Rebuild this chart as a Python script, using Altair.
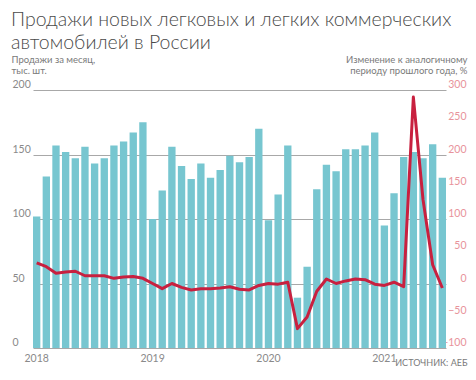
import altair as alt
import pandas as pd

title_lines = ["Продажи новых легковых и легких коммерческих", "автомобилей в России"]
left_title = ["Продажи за месяц,", "тыс. шт."]
right_title = ["Изменение к аналогичному", "периоду прошлого года, %"]
source = "ИСТОЧНИК: АЕБ"

years = ["2018", "2019", "2020", "2021"]
months = ["01", "02", "03", "04", "05", "06", "07", "08", "09", "10", "11", "12"]

sales = [
    102, 133, 157, 152, 147, 156, 143, 147, 157, 160, 167, 175,
    100, 122, 156, 141, 131, 143, 132, 138, 149, 144, 148, 170,
    99, 119, 157, 39, 63, 123, 142, 137, 154, 154, 157, 167,
    95, 120, 148, 152, 147, 158, 132,
]
yoy = [
    32, 26, 16, 18, 19, 12, 12, 12, 8, 10, 11, 8,
    0, -8, 0, -6, -10, -8, -8, -7, -5, -9, -10, -3,
    0, -1, 2, -70, -52, -12, 7, 0, 4, 7, 6, -1,
    -3, 2, -5, 289, 130, 29, -7,
]

periods = [f"{y}-{m}" for y in years for m in months][: len(sales)]
df = pd.DataFrame({"period": periods, "sales": sales, "yoy": yoy})

FONT = "Lato"
GRAY = "#8a8a8a"
PINK = "#e8939b"

x_enc = alt.X(
    "period:O",
    sort=periods,
    scale=alt.Scale(range=[22, 435], paddingInner=0.24, paddingOuter=0),
    axis=alt.Axis(
        values=[f"{y}-01" for y in years],
        labelExpr="slice(datum.value, 0, 4)",
        labelAngle=0,
        labelFont=FONT,
        labelFontSize=10.5,
        labelColor=GRAY,
        labelPadding=5,
        domain=False,
        ticks=False,
        tickSize=0,
        title=source,
        titleFont=FONT,
        titleFontSize=9,
        titleFontWeight="normal",
        titleColor="#7a7a7a",
        titleAlign="right",
        titleAnchor="end",
        titleBaseline="alphabetic",
        titleX=456,
        titleY=17,
    ),
)

bars = alt.Chart(df).mark_bar(color="#77c6d0").encode(
    x=x_enc,
    y=alt.Y(
        "sales:Q",
        scale=alt.Scale(domain=[0, 200], nice=False),
        axis=alt.Axis(
            orient="left",
            values=[0, 50, 100, 150, 200],
            grid=True,
            gridColor="#a8a8a8",
            gridWidth=1,
            domain=False,
            ticks=False,
            tickSize=0,
            labelAlign="left",
            labelBaseline="alphabetic",
            labelOffset=-2.5,
            labelPadding=-1,
            labelFont=FONT,
            labelFontSize=10.5,
            labelColor=GRAY,
            title=left_title,
            titleFont=FONT,
            titleFontSize=9.5,
            titleFontWeight="normal",
            titleColor="#7a7a7a",
            titleAngle=0,
            titleAlign="left",
            titleBaseline="alphabetic",
            titleLineHeight=11,
            titleX=0,
            titleY=-28,
        ),
    ),
)

line = alt.Chart(df).mark_line(color="#c8203f", strokeWidth=3, strokeJoin="round").encode(
    x=alt.X("period:O", sort=periods),
    y=alt.Y(
        "yoy:Q",
        scale=alt.Scale(domain=[-100, 300], nice=False),
        axis=alt.Axis(
            orient="right",
            values=[-100, -50, 0, 50, 100, 150, 200, 250, 300],
            grid=False,
            domain=False,
            ticks=False,
            tickSize=0,
            labelAlign="right",
            labelBaseline="alphabetic",
            labelOffset=-2.5,
            labelPadding=-1,
            labelFont=FONT,
            labelFontSize=10.5,
            labelColor=PINK,
            title=right_title,
            titleFont=FONT,
            titleFontSize=9.5,
            titleFontWeight="normal",
            titleColor="#7a7a7a",
            titleAngle=0,
            titleAlign="right",
            titleBaseline="alphabetic",
            titleLineHeight=11,
            titleX=0,
            titleY=-28,
        ),
    ),
)

chart = (
    alt.layer(bars, line)
    .resolve_scale(y="independent")
    .properties(
        width=456,
        height=258,
        autosize=alt.AutoSizeParams(type="none"),
        padding={"left": 3, "top": 82, "right": 1, "bottom": 19},
        title=alt.TitleParams(
            text=title_lines,
            anchor="start",
            frame="group",
            font=FONT,
            fontSize=19.5,
            fontWeight=300,
            color="#4a4a4a",
            lineHeight=23,
            offset=1,
        ),
    )
    .configure_view(stroke=None)
)

chart.save("out.html", embed_options={"renderer": "svg", "actions": False})
